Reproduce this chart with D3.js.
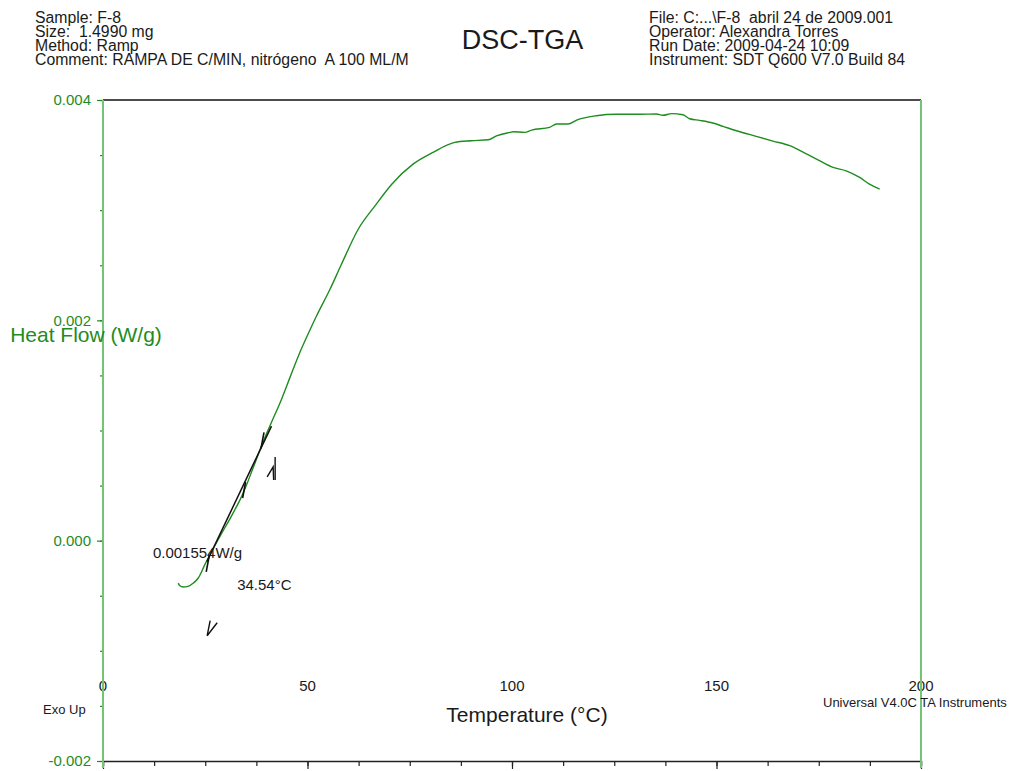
<!DOCTYPE html>
<html>
<head>
<meta charset="utf-8">
<script src="https://cdn.jsdelivr.net/npm/d3@7"></script>
<style>
  html, body { margin: 0; padding: 0; background: #fff; }
  svg { display: block; font-family: "Liberation Sans", Arial, sans-serif; }
</style>
</head>
<body>
<svg id="chart" width="1017" height="771"></svg>
<script>
// ---------------- DATA ----------------
const temperature = [18.4, 18.8, 19.6, 20.8, 22.1, 23.3, 24.9, 28.6, 31.5, 34.3, 36.8, 39.2, 41.2, 43.3, 45.7, 48.1, 50.2, 52.2, 55.5, 58.3, 62.4, 66.5, 70.6, 75.8, 80.7, 86.0, 90.0, 94.2, 96.2, 99.5, 100.3, 103.1, 104.8, 109.2, 110.9, 113.7, 115.8, 120.6, 125.5, 131.2, 135.3, 136.9, 139.0, 141.8, 143.4, 145.9, 149.1, 151.6, 154.9, 159.7, 163.8, 167.9, 171.6, 174.8, 178.5, 181.7, 185.0, 187.4, 189.9];
const heatFlow = [-0.000385, -0.000409, -0.000421, -0.000415, -0.000385, -0.000339, -0.000218, 0.000039, 0.000230, 0.000434, 0.000670, 0.000903, 0.001075, 0.001252, 0.001480, 0.001706, 0.001880, 0.002039, 0.002282, 0.002509, 0.002827, 0.003039, 0.003236, 0.003418, 0.003525, 0.003615, 0.003630, 0.003639, 0.003675, 0.003706, 0.003712, 0.003706, 0.003727, 0.003752, 0.003782, 0.003782, 0.003818, 0.003857, 0.003870, 0.003870, 0.003873, 0.003861, 0.003876, 0.003866, 0.003830, 0.003815, 0.003791, 0.003761, 0.003721, 0.003670, 0.003627, 0.003585, 0.003518, 0.003457, 0.003388, 0.003357, 0.003297, 0.003236, 0.003191];

const xTickValues = [0, 50, 100, 150, 200];
const xTickLabels = ["0", "50", "100", "150", "200"];
const xMinorStep = 12.5;
const yTickValues = [-0.002, 0.000, 0.002, 0.004];
const yTickLabels = ["-0.002", "0.000", "0.002", "0.004"];
const yMinorStep = 0.0005;
const xDomain = [0, 200];
const yDomain = [-0.002, 0.004];

// onset analysis annotation (temperature, heat flow)
const tangentT = [25.4, 41.2];
const tangentV = [-0.00019, 0.00104];
const markerT = [25.6, 34.5, 39.0];
const markerV = [-0.00021, 0.00046, 0.00091];
const upArrowT = [41.6];
const upArrowV = [0.00066];
const downArrowT = [26.2];
const downArrowV = [-0.00079];
const annotTexts = ["0.001554W/g", "34.54°C"];
const annotT = [12.2, 32.8];
const annotV = [-0.000155, -0.000445];

const headerLeft = ["Sample: F-8", "Size:  1.4990 mg", "Method: Ramp", "Comment: RAMPA DE C/MIN, nitrógeno  A 100 ML/M"];
const headerRight = ["File: C:...\\F-8  abril 24 de 2009.001", "Operator: Alexandra Torres", "Run Date: 2009-04-24 10:09", "Instrument: SDT Q600 V7.0 Build 84"];
const titleText = "DSC-TGA";
const xTitle = "Temperature (°C)";
const yTitle = "Heat Flow (W/g)";
const footLeft = "Exo Up";
const footRight = "Universal V4.0C TA Instruments";

// ---------------- LAYOUT ----------------
const svg = d3.select("#chart");
const L = 103, R = 921, T = 100, B = 761;
const GREEN = "#1e8c1e", AXGREEN = "#74c474", TXT = "#1a1a1a";

const x = d3.scaleLinear().domain(xDomain).range([L, R]);
const y = d3.scaleLinear().domain(yDomain).range([B, T]);

// header
svg.append("g").selectAll("text").data(headerLeft).join("text")
  .attr("x", 35).attr("y", (d, i) => 23 + i * 14)
  .attr("font-size", 15.8).attr("fill", TXT).style("white-space", "pre").text(d => d);
svg.append("g").selectAll("text").data(headerRight).join("text")
  .attr("x", 649).attr("y", (d, i) => 23 + i * 14)
  .attr("font-size", 15.8).attr("fill", TXT).style("white-space", "pre").text(d => d);
svg.append("text").attr("x", 522.5).attr("y", 48.5).attr("text-anchor", "middle")
  .attr("font-size", 27).attr("fill", TXT).text(titleText);

// top border
svg.append("line").attr("x1", L).attr("x2", R).attr("y1", T).attr("y2", T)
  .attr("stroke", "#111").attr("stroke-width", 1.3);

// bottom axis (ticks only, labels placed above)
const xMinor = d3.range(xDomain[0], xDomain[1] + 0.001, xMinorStep);
svg.append("g").attr("transform", `translate(0,${B})`)
  .call(d3.axisBottom(x).tickValues(xMinor).tickSize(5).tickFormat(""))
  .call(g => g.select(".domain").attr("stroke", "#222").attr("stroke-width", 1.3))
  .call(g => g.selectAll(".tick line").attr("stroke", "#222").attr("stroke-width", 1.2));
svg.append("g").attr("transform", `translate(0,${B})`)
  .call(d3.axisBottom(x).tickValues(xTickValues).tickSize(8).tickFormat(""))
  .call(g => g.select(".domain").remove())
  .call(g => g.selectAll(".tick line").attr("stroke", "#222").attr("stroke-width", 1.2));
svg.append("g").selectAll("text").data(xTickValues).join("text")
  .attr("x", d => x(d)).attr("y", 691).attr("text-anchor", "middle")
  .attr("font-size", 15).attr("fill", TXT).text((d, i) => xTickLabels[i]);

// left axis
const yMinor = d3.range(yDomain[0], yDomain[1] + 1e-9, yMinorStep);
svg.append("g").attr("transform", `translate(${L},0)`)
  .call(d3.axisLeft(y).tickValues(yMinor).tickSize(3).tickFormat(""))
  .call(g => g.select(".domain").remove())
  .call(g => g.selectAll(".tick line").attr("stroke", GREEN).attr("stroke-width", 1.2));
svg.append("g").attr("transform", `translate(${L},0)`)
  .call(d3.axisLeft(y).tickValues(yTickValues).tickSize(6).tickPadding(6)
    .tickFormat((d, i) => yTickLabels[i]))
  .call(g => g.select(".domain").remove())
  .call(g => g.selectAll(".tick line").attr("stroke", GREEN).attr("stroke-width", 1.2))
  .call(g => g.selectAll(".tick text").attr("fill", GREEN).attr("font-size", 15)
    .attr("font-family", "Liberation Sans, Arial, sans-serif"));

// green vertical axis lines
svg.append("line").attr("x1", L).attr("x2", L).attr("y1", T).attr("y2", B + 7)
  .attr("stroke", AXGREEN).attr("stroke-width", 2);
svg.append("line").attr("x1", R).attr("x2", R).attr("y1", T).attr("y2", B + 7)
  .attr("stroke", AXGREEN).attr("stroke-width", 2);

// titles
svg.append("text").attr("x", 86).attr("y", 342).attr("text-anchor", "middle")
  .attr("font-size", 21).attr("fill", GREEN).text(yTitle);
svg.append("text").attr("x", 527).attr("y", 722).attr("text-anchor", "middle")
  .attr("font-size", 21).attr("fill", TXT).text(xTitle);
svg.append("text").attr("x", 43).attr("y", 714).attr("font-size", 13).attr("fill", TXT).text(footLeft);
svg.append("text").attr("x", 823).attr("y", 707).attr("font-size", 13).attr("fill", TXT).text(footRight);

// curve
const pts = temperature.map((t, i) => [t, heatFlow[i]]);
svg.append("path").datum(pts)
  .attr("fill", "none").attr("stroke", GREEN).attr("stroke-width", 1.4)
  .attr("stroke-linejoin", "round")
  .attr("d", d3.line().curve(d3.curveMonotoneX).x(d => x(d[0])).y(d => y(d[1])));

// annotation: tangent line
const tan = tangentT.map((t, i) => [t, tangentV[i]]);
svg.append("path").datum(tan).attr("fill", "none").attr("stroke", "#111").attr("stroke-width", 1.5)
  .attr("d", d3.line().x(d => x(d[0])).y(d => y(d[1])));
// tick markers
svg.append("g").selectAll("line").data(markerT).join("line")
  .attr("x1", (d, i) => x(d) - 1.5).attr("y1", (d, i) => y(markerV[i]) + 8)
  .attr("x2", (d, i) => x(d) + 1.5).attr("y2", (d, i) => y(markerV[i]) - 8)
  .attr("stroke", "#111").attr("stroke-width", 1.6);
// up arrow marker
upArrowT.forEach((t, i) => {
  const cx = x(t), cy = y(upArrowV[i]);
  const g = svg.append("g").attr("stroke", "#111").attr("stroke-width", 1.4).attr("fill", "none");
  g.append("line").attr("x1", cx + 2).attr("x2", cx + 2).attr("y1", cy - 11).attr("y2", cy + 12);
  g.append("path").attr("d", `M${cx - 6},${cy + 9} L${cx},${cy - 1} L${cx + 0.5},${cy + 12}`);
});
// down arrow marker (V)
downArrowT.forEach((t, i) => {
  const cx = x(t), cy = y(downArrowV[i]);
  svg.append("path").attr("d", `M${cx},${cy - 7} L${cx - 3},${cy + 8} L${cx + 7},${cy - 5}`)
    .attr("stroke", "#111").attr("stroke-width", 1.4).attr("fill", "none");
});
// annotation texts
svg.append("g").selectAll("text").data(annotTexts).join("text")
  .attr("x", (d, i) => x(annotT[i])).attr("y", (d, i) => y(annotV[i]))
  .attr("font-size", 15).attr("fill", TXT).text(d => d);
</script>
</body>
</html>
